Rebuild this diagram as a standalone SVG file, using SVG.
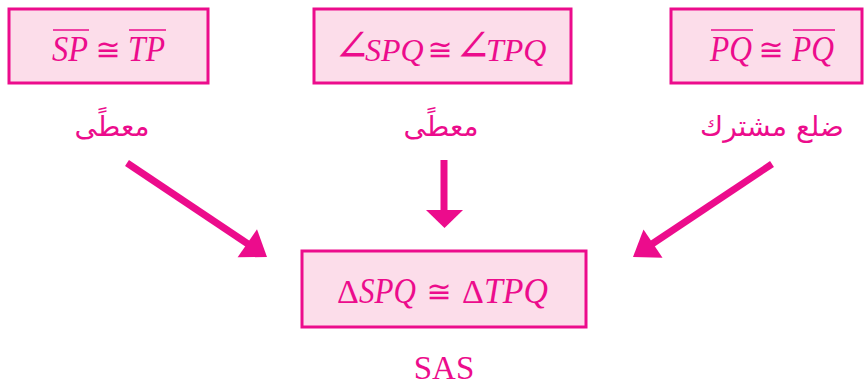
<svg xmlns="http://www.w3.org/2000/svg" width="864" height="387" viewBox="0 0 864 387">
<style>
.box{fill:#FCDDEA;stroke:#EC0C8C;stroke-width:3}
.m{font-family:"Liberation Serif","DejaVu Serif",serif;font-size:35px;fill:#EC0C8C;font-style:italic}
.m2{font-family:"Liberation Serif","DejaVu Serif",serif;font-size:32px;fill:#EC0C8C;font-style:italic}
.g{font-family:"Liberation Serif","DejaVu Serif",serif;font-size:34px;fill:#EC0C8C;text-anchor:middle}
.s{font-family:"DejaVu Serif","DejaVu Sans",serif;font-size:30px;fill:#EC0C8C;text-anchor:middle}
.a{font-family:"DejaVu Serif","DejaVu Sans",serif;font-size:44px;fill:#EC0C8C;text-anchor:middle}
.ar{font-family:"DejaVu Sans","Noto Sans",sans-serif;font-size:28px;fill:#EC0C8C;text-anchor:middle}
.sas{font-family:"Liberation Serif",serif;font-size:33px;fill:#EC0C8C;text-anchor:middle}
.ov{stroke:#EC0C8C;stroke-width:1.5}
.shaft{stroke:#EC0C8C;stroke-width:7;fill:none}
.head{fill:#EC0C8C}
</style>
<g id="node-sp-tp">
<rect class="box" x="9" y="9" width="199" height="74"/>
<text class="m" x="52" y="61" textLength="36" lengthAdjust="spacingAndGlyphs">SP</text>
<text class="s" x="108" y="60">≅</text>
<text class="m" x="128" y="61" textLength="37" lengthAdjust="spacingAndGlyphs">TP</text>
<line class="ov" x1="53" y1="30" x2="89" y2="30"/>
<line class="ov" x1="129" y1="30" x2="166" y2="30"/>
</g>
<g id="node-angle">
<rect class="box" x="314" y="9" width="257" height="74"/>
<text class="a" x="352" y="61">∠</text>
<text class="m2" x="365" y="61">SPQ</text>
<text class="s" x="440" y="60">≅</text>
<text class="a" x="473" y="61">∠</text>
<text class="m2" x="486" y="61">TPQ</text>
</g>
<g id="node-pq">
<rect class="box" x="671" y="9" width="191" height="74"/>
<text class="m" x="710" y="61" textLength="42" lengthAdjust="spacingAndGlyphs">PQ</text>
<text class="s" x="771" y="60">≅</text>
<text class="m" x="792" y="61" textLength="42" lengthAdjust="spacingAndGlyphs">PQ</text>
<line class="ov" x1="711" y1="30" x2="753" y2="30"/>
<line class="ov" x1="793" y1="30" x2="835" y2="30"/>
</g>
<g id="label-given-1"><text class="ar" x="112" y="136">معطًى</text></g>
<g id="label-given-2"><text class="ar" x="441" y="136">معطًى</text></g>
<g id="label-common"><text class="ar" x="772" y="136">ضلع مشترك</text></g>
<g id="node-result">
<rect class="box" x="302" y="251" width="284" height="76"/>
<text class="g" x="348" y="303">Δ</text>
<text class="m" x="359" y="303" textLength="57" lengthAdjust="spacingAndGlyphs">SPQ</text>
<text class="s" x="439" y="302">≅</text>
<text class="g" x="473" y="303">Δ</text>
<text class="m" x="484" y="303" textLength="64" lengthAdjust="spacingAndGlyphs">TPQ</text>
<text class="sas" x="444" y="379">SAS</text>
</g>
<g id="connectors">
<line class="shaft" x1="127" y1="163" x2="248" y2="244"/>
<polygon class="head" points="267,257 237.6,257.3 257,229.3"/>
<line class="shaft" x1="444" y1="160" x2="444" y2="212"/>
<polygon class="head" points="426,210 463,210 444.5,228"/>
<line class="shaft" x1="772" y1="164" x2="652" y2="244"/>
<polygon class="head" points="633,257 662.5,257.7 643.5,229.5"/>
</g>
</svg>
